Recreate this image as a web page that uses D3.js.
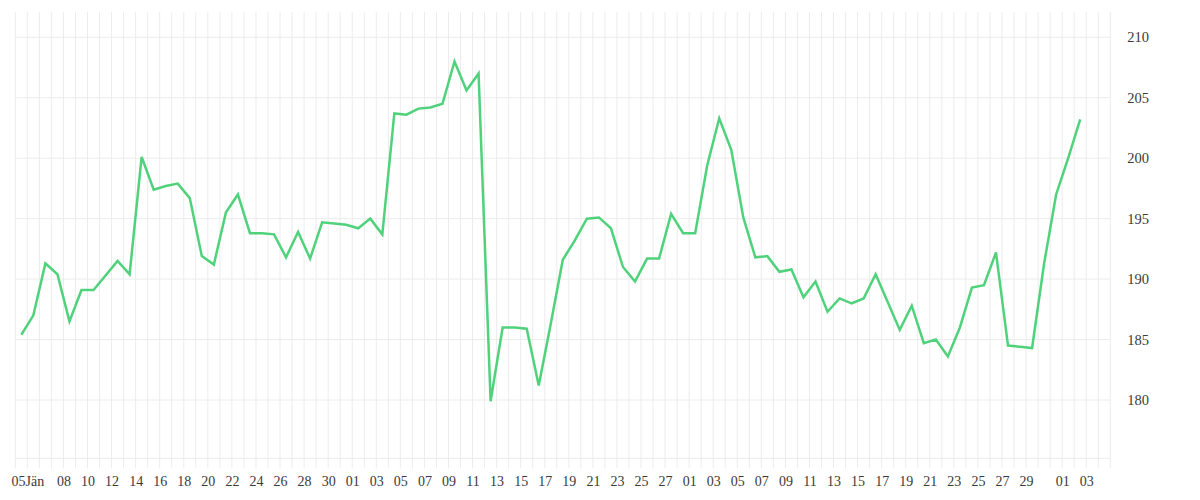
<!DOCTYPE html>
<html>
<head>
<meta charset="utf-8">
<script src="https://d3js.org/d3.v7.min.js"></script>
<style>
  body { margin: 0; background: #fff; }
  text { font-family: "Liberation Serif", serif; fill: #3a3a3a; }
</style>
</head>
<body>
<div id="chart"></div>
<script>
// daily closing values, one per day starting 5 Jan 2015
var startDate = "2015-01-05";
var values = [
  185.4, 187.0, 191.3, 190.4, 186.5, 189.1, 189.1, 190.3, 191.5, 190.4,
  200.1, 197.4, 197.7, 197.9, 196.7, 191.9, 191.2, 195.5, 197.0, 193.8,
  193.8, 193.7, 191.8, 193.9, 191.7, 194.7, 194.6, 194.5, 194.2, 195.0,
  193.7, 203.7, 203.6, 204.1, 204.2, 204.5, 208.0, 205.6, 207.0, 179.9,
  186.0, 186.0, 185.9, 181.2, 186.3, 191.6, 193.2, 195.0, 195.1, 194.2,
  191.0, 189.8, 191.7, 191.7, 195.4, 193.8, 193.8, 199.4, 203.3, 200.7,
  195.1, 191.8, 191.9, 190.6, 190.8, 188.5, 189.8, 187.3, 188.4, 188.0,
  188.4, 190.4, 188.1, 185.8, 187.8, 184.7, 185.0, 183.6, 186.0, 189.3,
  189.5, 192.2, 184.5, 184.4, 184.3, 191.3, 197.0, 200.0, 203.2
];

// x tick labels
var tickDates = [
  "2015-01-05", "2015-01-08", "2015-01-10", "2015-01-12", "2015-01-14", "2015-01-16",
  "2015-01-18", "2015-01-20", "2015-01-22", "2015-01-24", "2015-01-26", "2015-01-28",
  "2015-01-30", "2015-02-01", "2015-02-03", "2015-02-05", "2015-02-07", "2015-02-09",
  "2015-02-11", "2015-02-13", "2015-02-15", "2015-02-17", "2015-02-19", "2015-02-21",
  "2015-02-23", "2015-02-25", "2015-02-27", "2015-03-01", "2015-03-03", "2015-03-05",
  "2015-03-07", "2015-03-09", "2015-03-11", "2015-03-13", "2015-03-15", "2015-03-17",
  "2015-03-19", "2015-03-21", "2015-03-23", "2015-03-25", "2015-03-27", "2015-03-29",
  "2015-04-01", "2015-04-03"
];
var tickLabels = [
  "05Jän", "08", "10", "12", "14", "16", "18", "20", "22", "24", "26", "28",
  "30", "01", "03", "05", "07", "09", "11", "13", "15", "17", "19", "21",
  "23", "25", "27", "01", "03", "05", "07", "09", "11", "13", "15", "17",
  "19", "21", "23", "25", "27", "29", "01", "03"
];

// y axis
var yTicks = [180, 185, 190, 195, 200, 205, 210];
var yDomain = [175.18, 212.09];

var svgWidth = 1200;
var svgHeight = 500;
var margin = {top: 12, right: 90, bottom: 42, left: 15.3};
var width = 1095;
var height = 446.3;

var parseDate = d3.utcParse("%Y-%m-%d");
var start = parseDate(startDate);
var data = values.map(function(v, i) {
  return {date: d3.utcDay.offset(start, i), value: v};
});

// SVG
var svg = d3.select("#chart")
  .append("svg")
  .attr("width", svgWidth)
  .attr("height", svgHeight);
var chartGroup = svg.append("g")
  .attr("transform", `translate(${margin.left}, ${margin.top})`);

// scales (grid sits at midday, points at midnight)
var xScale = d3.scaleUtc()
  .domain([d3.utcHour.offset(d3.utcDay.offset(start, -1), 12), d3.utcHour.offset(parseDate("2015-04-05"), 12)])
  .range([0, width]);
var yScale = d3.scaleLinear()
  .domain(yDomain)
  .range([height, 0]);

// vertical grid, one line per day
var gridDays = d3.utcDay.range(d3.utcDay.offset(start, -1), parseDate("2015-04-06"))
  .map(d => d3.utcHour.offset(d, 12));
chartGroup.append("g")
  .selectAll("line")
  .data(gridDays)
  .enter()
  .append("line")
  .attr("x1", d => xScale(d))
  .attr("x2", d => xScale(d))
  .attr("y1", 0)
  .attr("y2", height + 10)
  .attr("stroke", "#ececec")
  .attr("stroke-width", 1);

// horizontal grid
chartGroup.append("g")
  .selectAll("line")
  .data(yTicks)
  .enter()
  .append("line")
  .attr("x1", 0)
  .attr("x2", width)
  .attr("y1", d => yScale(d))
  .attr("y2", d => yScale(d))
  .attr("stroke", "#ececec")
  .attr("stroke-width", 1);
chartGroup.append("line")
  .attr("x1", 0)
  .attr("x2", width)
  .attr("y1", height)
  .attr("y2", height)
  .attr("stroke", "#ececec")
  .attr("stroke-width", 1);

// axes
var bottomAxis = d3.axisBottom(xScale)
  .tickValues(tickDates.map(d => d3.utcHour.offset(parseDate(d), 12)))
  .tickFormat((d, i) => tickLabels[i])
  .tickSize(0)
  .tickPadding(18);
var xAxis = chartGroup.append("g")
  .attr("transform", `translate(0, ${height})`)
  .call(bottomAxis);
xAxis.select(".domain").remove();
xAxis.selectAll("text")
  .attr("font-family", "Liberation Serif")
  .attr("font-size", "14px")
  .attr("fill", "#3a3a3a");

var rightAxis = d3.axisRight(yScale)
  .tickValues(yTicks)
  .tickSize(0)
  .tickPadding(17);
var yAxis = chartGroup.append("g")
  .attr("transform", `translate(${width}, 0)`)
  .call(rightAxis);
yAxis.select(".domain").remove();
yAxis.selectAll("text")
  .attr("font-family", "Liberation Serif")
  .attr("font-size", "14.5px")
  .attr("fill", "#3a3a3a");

// line
var line = d3.line()
  .x(d => xScale(d.date))
  .y(d => yScale(d.value));
chartGroup.append("path")
  .datum(data)
  .attr("d", line)
  .attr("fill", "none")
  .attr("stroke", "#4fd27b")
  .attr("stroke-width", 2.5);
</script>
</body>
</html>
